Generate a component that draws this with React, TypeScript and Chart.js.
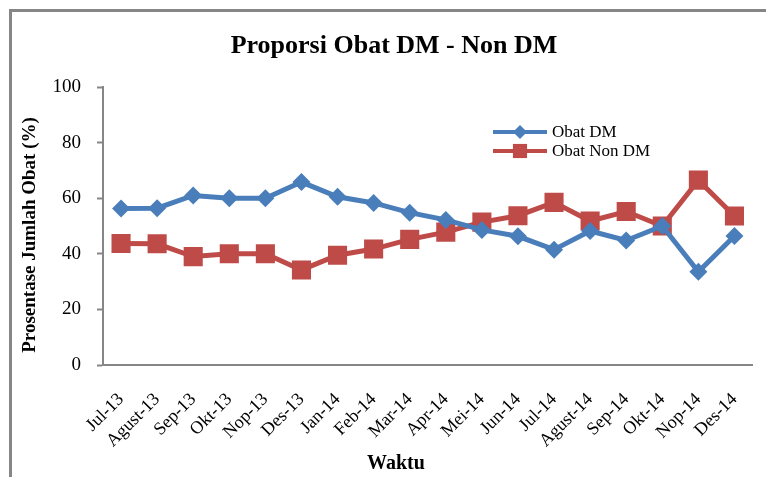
import React, { useEffect, useRef } from "react";
import { Chart, registerables } from "chart.js";

Chart.register(...registerables);

const categories = [
  "Jul-13", "Agust-13", "Sep-13", "Okt-13", "Nop-13", "Des-13",
  "Jan-14", "Feb-14", "Mar-14", "Apr-14", "Mei-14", "Jun-14",
  "Jul-14", "Agust-14", "Sep-14", "Okt-14", "Nop-14", "Des-14",
];
const obatDM = [56.3, 56.4, 61, 60, 60, 65.8, 60.5, 58.3, 54.8, 52.2, 48.6, 46.3, 41.5, 48.2, 44.8, 50, 33.5, 46.4];
const obatNonDM = [43.7, 43.6, 39, 40, 40, 34.2, 39.5, 41.7, 45.2, 47.8, 51.4, 53.7, 58.5, 51.8, 55.2, 50, 66.5, 53.6];
const yTicks = [0, 20, 40, 60, 80, 100];

const titleText = "Proporsi Obat DM - Non DM";
const yTitle = "Prosentase Jumlah Obat (%)";
const xTitle = "Waktu";
const seriesNames = ["Obat DM", "Obat Non DM"];

const BLUE = "#4A7EBB";
const RED = "#BE4B48";
const AXIS = "#868686";
const FONT = "'Liberation Serif', 'Times New Roman', serif";

const decorPlugin = {
  id: "decor",
  beforeDraw(chart: any) {
    const ctx = chart.ctx;
    ctx.save();
    ctx.fillStyle = "#ffffff";
    ctx.fillRect(0, 0, chart.width, chart.height);
    ctx.strokeStyle = AXIS;
    ctx.lineWidth = 3;
    ctx.beginPath();
    ctx.moveTo(10.5, chart.height + 5);
    ctx.lineTo(10.5, 10.5);
    ctx.lineTo(chart.width + 5, 10.5);
    ctx.stroke();
    ctx.restore();
  },
  afterDraw(chart: any) {
    const ctx = chart.ctx;
    ctx.save();
    ctx.fillStyle = "#000";
    ctx.textAlign = "center";
    ctx.textBaseline = "middle";
    ctx.font = `bold 26px ${FONT}`;
    ctx.fillText(titleText, 394, 46);
    ctx.font = `bold 20px ${FONT}`;
    ctx.fillText(xTitle, 396, 464);
    ctx.save();
    ctx.translate(30, 235);
    ctx.rotate(-Math.PI / 2);
    ctx.font = `bold 19px ${FONT}`;
    ctx.fillText(yTitle, 0, 0);
    ctx.restore();

    // legend
    const items = [
      { name: seriesNames[0], color: BLUE, style: "rectRot", r: 7, y: 132 },
      { name: seriesNames[1], color: RED, style: "rect", r: 10, y: 151 },
    ];
    ctx.font = `17px ${FONT}`;
    ctx.textAlign = "left";
    for (const it of items) {
      ctx.strokeStyle = it.color;
      ctx.lineWidth = 4;
      ctx.beginPath();
      ctx.moveTo(493, it.y);
      ctx.lineTo(547, it.y);
      ctx.stroke();
      ctx.fillStyle = it.color;
      ctx.beginPath();
      if (it.style === "rectRot") {
        ctx.moveTo(520, it.y - it.r);
        ctx.lineTo(520 + it.r, it.y);
        ctx.lineTo(520, it.y + it.r);
        ctx.lineTo(520 - it.r, it.y);
        ctx.closePath();
      } else {
        const s = it.r * Math.SQRT1_2;
        ctx.rect(520 - s, it.y - s, 2 * s, 2 * s);
      }
      ctx.fill();
      ctx.fillStyle = "#000";
      ctx.fillText(it.name, 552, it.y + 1);
    }
    ctx.restore();
  },
};

export default function App() {
  const ref = useRef<HTMLCanvasElement | null>(null);
  useEffect(() => {
    if (!ref.current) return;
    const chart = new Chart(ref.current, {
      type: "line",
      data: {
        labels: categories,
        datasets: [
          {
            label: seriesNames[0],
            data: obatDM,
            borderColor: BLUE,
            backgroundColor: BLUE,
            borderWidth: 5,
            pointStyle: "rectRot",
            pointRadius: 9,
            pointBorderWidth: 0,
            pointBackgroundColor: BLUE,
            pointBorderColor: BLUE,
            tension: 0,
          },
          {
            label: seriesNames[1],
            data: obatNonDM,
            borderColor: RED,
            backgroundColor: RED,
            borderWidth: 5,
            pointStyle: "rect",
            pointRadius: 13.5,
            pointBorderWidth: 0,
            pointBackgroundColor: RED,
            pointBorderColor: RED,
            tension: 0,
          },
        ],
      },
      options: {
        animation: false,
        responsive: false,
        maintainAspectRatio: false,
        layout: { padding: { top: 87, right: 9, left: 0, bottom: 0 } },
        plugins: {
          legend: { display: false },
          title: { display: false },
          tooltip: { enabled: false },
        },
        scales: {
          x: {
            type: "category",
            offset: true,
            grid: { display: false, drawTicks: false },
            border: { display: true, color: AXIS, width: 2 },
            ticks: {
              color: "#000",
              font: { family: FONT, size: 18 },
              maxRotation: 45,
              minRotation: 45,
              autoSkip: false,
              padding: 24,
            },
            afterFit: (s: any) => {
              s.height = 477 - 365;
              s.paddingLeft = 0;
              s.paddingRight = 0;
            },
          },
          y: {
            min: 0,
            max: 100,
            afterBuildTicks: (s: any) => {
              s.ticks = yTicks.map((v) => ({ value: v }));
            },
            grid: {
              display: true,
              drawOnChartArea: false,
              drawTicks: true,
              tickLength: 6,
              tickColor: AXIS,
              tickWidth: 2,
            },
            border: { display: true, color: AXIS, width: 2 },
            ticks: {
              color: "#000",
              font: { family: FONT, size: 19 },
              padding: 16,
            },
            afterFit: (s: any) => {
              s.width = 103;
              s.paddingTop = 0;
              s.paddingBottom = 0;
            },
          },
        },
      },
      plugins: [decorPlugin],
    } as any);
    return () => chart.destroy();
  }, []);
  return (
    <div style={{ position: "absolute", left: 0, top: 0, width: 766, height: 477, overflow: "hidden", background: "#fff" }}>
      <canvas ref={ref} width={766} height={477} style={{ display: "block" }} />
    </div>
  );
}
